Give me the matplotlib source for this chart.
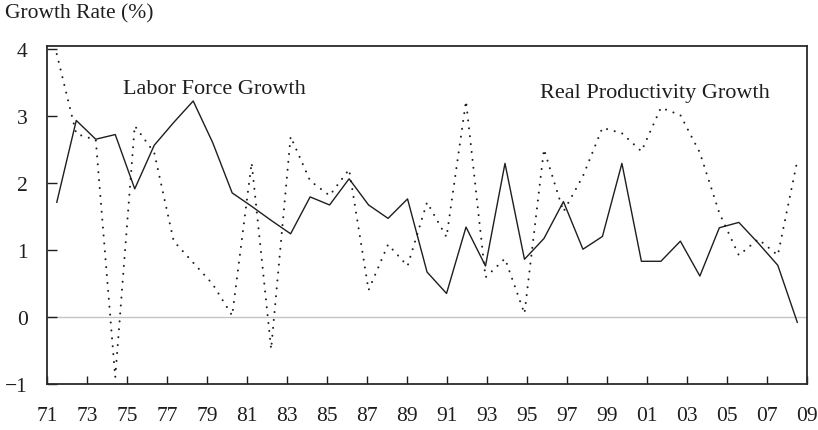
import numpy as np
import matplotlib
matplotlib.use("Agg")
import matplotlib.pyplot as plt

plt.rcParams["font.family"] = ["Liberation Serif", "DejaVu Serif"]

# annual observations, 1971-2009
YEARS = list(range(1971, 2010))
LABOR = [1.71, 2.93, 2.65, 2.72, 1.91, 2.56, 2.90, 3.22, 2.60, 1.85,
         1.65, 1.44, 1.24, 1.79, 1.67, 2.06, 1.67, 1.47, 1.76, 0.67,
         0.35, 1.34, 0.76, 2.29, 0.86, 1.17, 1.72, 1.01, 1.20, 2.29,
         0.83, 0.83, 1.13, 0.61, 1.33, 1.41, 1.10, 0.77, -0.08]
PRODUCTIVITY = [3.92, 2.73, 2.64, -0.90, 2.85, 2.45, 1.13, 0.81, 0.49, 0.02,
                2.30, -0.48, 2.69, 2.03, 1.81, 2.20, 0.40, 1.08, 0.76, 1.71,
                1.19, 3.22, 0.59, 0.87, 0.05, 2.50, 1.57, 2.10, 2.82, 2.74,
                2.47, 3.12, 3.01, 2.45, 1.55, 0.92, 1.16, 0.92, 2.33]
TICK_YEARS = list(range(1971, 2010, 2))
TICK_LABELS = [f"{y % 100:02d}" for y in TICK_YEARS]
Y_TICKS = [-1, 0, 1, 2, 3, 4]

INK = "#1e1e1e"

fig = plt.figure(figsize=(8.18, 4.31), dpi=100)
ax = fig.add_axes([0.0575, 0.1067, 0.9291, 0.7842])

# each year sits in the middle of its band along the 1971-2009 axis
n = len(YEARS)
span = YEARS[-1] - YEARS[0]
x = YEARS[0] + (np.arange(n) + 0.5) * span / n

ax.axhline(0, color="#c4c4c4", linewidth=1.0, zorder=1)
ax.plot(x, LABOR, color=INK, linewidth=1.0, zorder=3)
ax.plot(x, PRODUCTIVITY, color=INK, linewidth=1.5,
        linestyle=(0, (0.01, 3.8)), dash_capstyle="round", zorder=3)

ax.set_xlim(YEARS[0], YEARS[-1])
ax.set_ylim(-1, 4.04)
ax.set_xticks(TICK_YEARS)
ax.set_xticklabels(TICK_LABELS)
ax.set_yticks(Y_TICKS)
ax.set_yticklabels([str(v).replace("-", "\u2212") for v in Y_TICKS])

ax.tick_params(axis="x", direction="in", length=6, width=1.0, color=INK,
               labelsize=15.5, labelcolor=INK, pad=15.5)
ax.tick_params(axis="y", direction="in", length=7, width=1.0, color=INK,
               labelsize=15.5, labelcolor=INK, pad=14)
for side in ("left", "bottom", "top", "right"):
    ax.spines[side].set_color("#2a2a2a")
    ax.spines[side].set_linewidth(1.3)

ax.text(0.10, 0.861, "Labor Force Growth", transform=ax.transAxes,
        fontsize=16, color=INK, ha="left", va="baseline")
ax.text(0.6487, 0.848, "Real Productivity Growth", transform=ax.transAxes,
        fontsize=16, color=INK, ha="left", va="baseline")

fig.text(0.006, 1 - 18.5 / 431, "Growth Rate (%)", fontsize=15.5, color=INK,
         ha="left", va="baseline")

fig.savefig("out.png", dpi=100)
